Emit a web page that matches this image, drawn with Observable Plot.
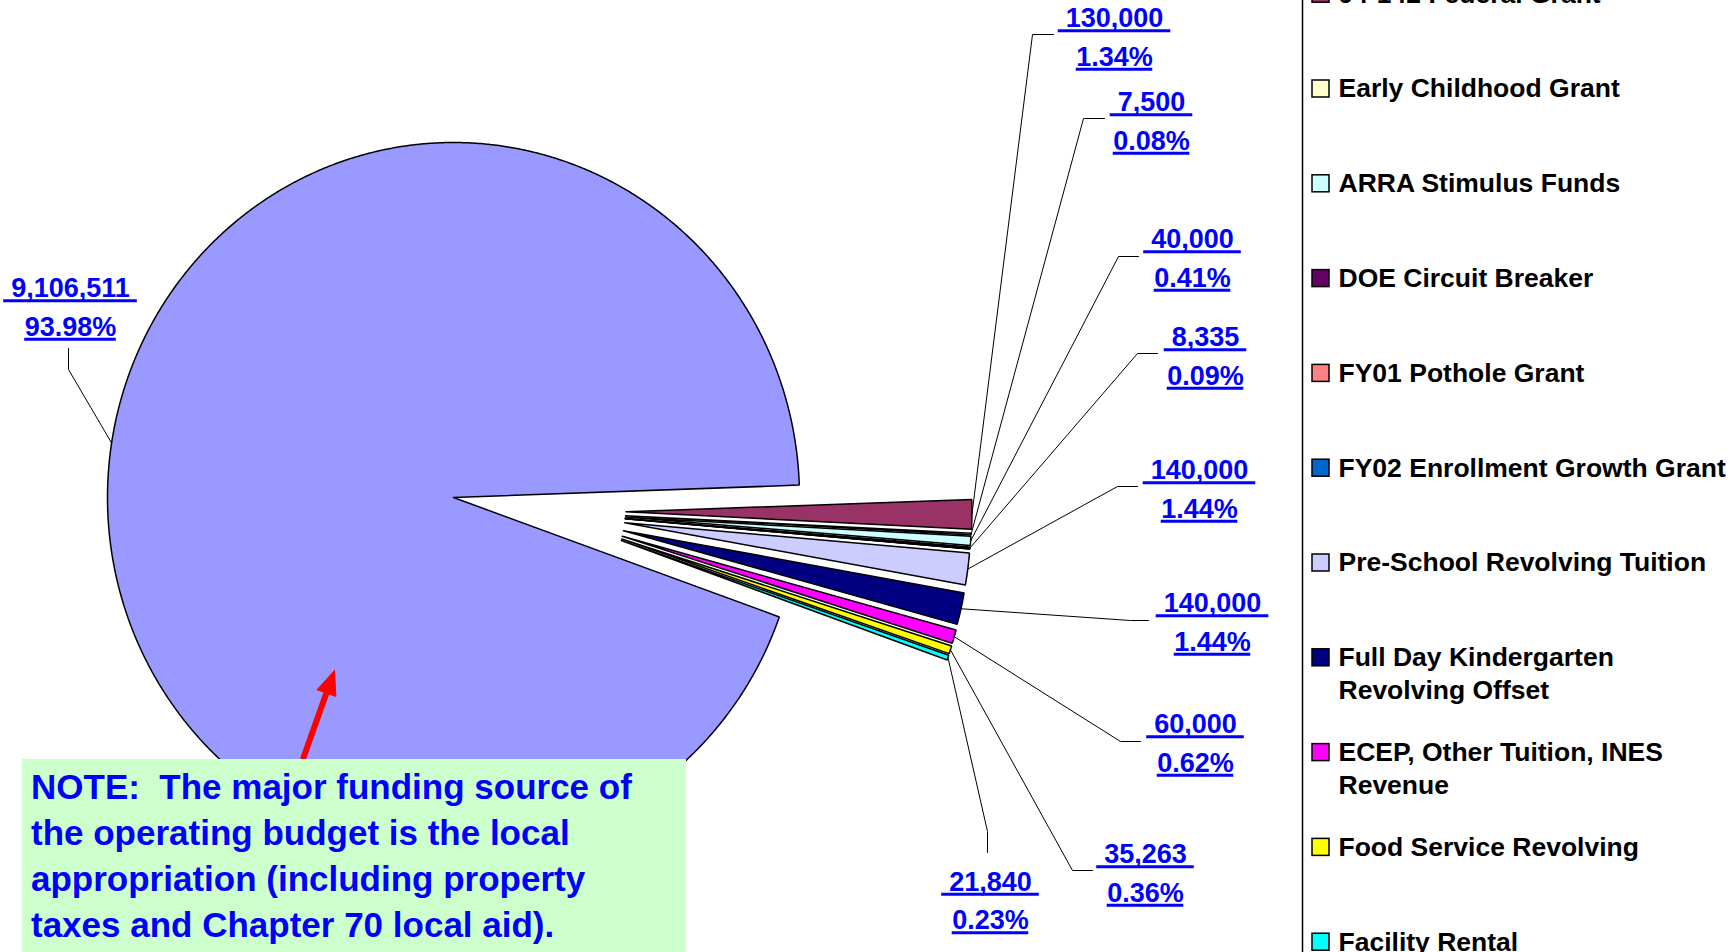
<!DOCTYPE html>
<html>
<head>
<meta charset="utf-8">
<script src="https://cdn.jsdelivr.net/npm/d3@7"></script>
<script src="https://cdn.jsdelivr.net/npm/@observablehq/plot@0.6"></script>
<style>
  html, body { margin: 0; padding: 0; background: #fff; }
  body { width: 1730px; height: 952px; overflow: hidden; position: relative; font-family: "Liberation Sans", Arial, sans-serif; }
  #chart { position: absolute; left: 0; top: 0; }
  #note {
    position: absolute; left: 22px; top: 759px; width: 664px; height: 220px;
    background: #CCFFCC; color: #0000FF; font-weight: bold; font-size: 35px;
    line-height: 46px; padding: 5px 0 0 9px; box-sizing: border-box; white-space: pre;
  }
</style>
</head>
<body>
<div id="chart"></div>
<div id="note"></div>
<script>
// ---------------- data ----------------
const categories = [
  "Local Appropriation",
  "94-142 Federal Grant",
  "Early Childhood Grant",
  "ARRA Stimulus Funds",
  "DOE Circuit Breaker",
  "FY01 Pothole Grant",
  "FY02 Enrollment Growth Grant",
  "Pre-School Revolving Tuition",
  "Full Day Kindergarten Revolving Offset",
  "ECEP, Other Tuition, INES Revenue",
  "Food Service Revolving",
  "Facility Rental"
];
const values = [9106511, 130000, 7500, 40000, 8335, 0, 0, 140000, 140000, 60000, 35263, 21840];
const colors = ["#9999FF", "#993366", "#FFFFCC", "#CCFFFF", "#660066", "#FF8080",
                "#0066CC", "#CCCCFF", "#000080", "#FF00FF", "#FFFF00", "#00FFFF"];
const legendLines = [
  ["Local Appropriation"],
  ["94-142 Federal Grant"],
  ["Early Childhood Grant"],
  ["ARRA Stimulus Funds"],
  ["DOE Circuit Breaker"],
  ["FY01 Pothole Grant"],
  ["FY02 Enrollment Growth Grant"],
  ["Pre-School Revolving Tuition"],
  ["Full Day Kindergarten", "Revolving Offset"],
  ["ECEP, Other Tuition, INES", "Revenue"],
  ["Food Service Revolving"],
  ["Facility Rental"]
];
const noteLines = [
  "NOTE:  The major funding source of",
  "the operating budget is the local",
  "appropriation (including property",
  "taxes and Chapter 70 local aid)."
];

// ---------------- layout (pixels) ----------------
const W = 1730, H = 952;
const cx = 453, cy = 497, rx = 346, ry = 355;
const X = px => (px - cx) / rx;
const Y = py => (cy - py) / ry;
const deg = Math.PI / 180;
const MAIN_END_ANGLE = 88 * deg;   // clockwise from 12 o'clock
const EXPLODE = 0.5;
const LABEL_FONT = 27;
// label anchor (value line centre) + leader elbow/end, by slice index
const labelLayout = {
  0:  {x: 70,   y: 288,   elbow: [68, 369],   end: [68, 348]},
  1:  {x: 1114, y: 18,    elbow: [1032, 34],  end: [1053, 34]},
  2:  {x: 1151, y: 102,   elbow: [1083, 118], end: [1104, 118]},
  3:  {x: 1192, y: 239,   elbow: [1118, 256], end: [1138, 256]},
  4:  {x: 1205, y: 337,   elbow: [1137, 353], end: [1157, 353]},
  7:  {x: 1199, y: 470,   elbow: [1117, 486], end: [1137, 486]},
  8:  {x: 1212, y: 603,   elbow: [1130, 620], end: [1148, 620]},
  9:  {x: 1195, y: 724,   elbow: [1120, 741], end: [1140, 741]},
  10: {x: 1145, y: 854,   elbow: [1072, 870], end: [1092, 870]},
  11: {x: 990,  y: 881.5, elbow: [987, 831],  end: [987, 852]}
};
const PCT_DY = 38.5;
const legendTop = -6.3, legendStep = 94.8, legendLineStep = 33;
const arrowTail = [303, 757], arrowTip = [334, 670];

// ---------------- geometry from data ----------------
const total = d3.sum(values);
const start = MAIN_END_ANGLE - 2 * Math.PI * values[0] / total;
const arcs = d3.pie().sort(null).value(d => d).startAngle(start).endAngle(start + 2 * Math.PI)(values);
const groupMid = (arcs[1].startAngle + arcs[arcs.length - 1].endAngle) / 2;
function offset(i) {
  if (i === 0) return [0, 0];
  const a = arcs[i];
  const mid = (a.startAngle + a.endAngle) / 2;
  const dir = (mid + groupMid) / 2;
  return [EXPLODE * Math.sin(dir), EXPLODE * Math.cos(dir)];
}
function slicePts(i) {
  const a = arcs[i];
  const [dx, dy] = offset(i);
  const n = Math.max(2, Math.ceil((a.endAngle - a.startAngle) / (0.25 * deg)));
  const pts = [{x: dx, y: dy}];
  for (let k = 0; k <= n; k++) {
    const t = a.startAngle + (a.endAngle - a.startAngle) * k / n;
    pts.push({x: dx + Math.sin(t), y: dy + Math.cos(t)});
  }
  pts.push({x: dx, y: dy});
  return pts;
}

// text measuring for the underlines
const ctx = document.createElement("canvas").getContext("2d");
ctx.font = `bold ${LABEL_FONT}px 'Liberation Sans', Arial, sans-serif`;
const textW = s => ctx.measureText(s).width;

const fmtVal = d3.format(",");
const labelData = [];
const underlineData = [];
const leaderMarks = [];
Object.keys(labelLayout).map(Number).forEach(i => {
  const L = labelLayout[i];
  const a = arcs[i];
  const mid = (a.startAngle + a.endAngle) / 2;
  const [dx, dy] = offset(i);
  const vText = "\u00a0" + fmtVal(values[i]) + "\u00a0";
  const pText = (values[i] / total * 100).toFixed(2) + "%";
  [[vText, L.y], [pText, L.y + PCT_DY]].forEach(([t, py]) => {
    labelData.push({x: X(L.x), y: Y(py), text: t});
    const w = textW(t);
    underlineData.push({x1: X(L.x - w / 2), x2: X(L.x + w / 2), y: Y(py + 0.32 * LABEL_FONT + 3.6)});
  });
  leaderMarks.push(Plot.line([
    {x: dx + Math.sin(mid), y: dy + Math.cos(mid)},
    {x: X(L.elbow[0]), y: Y(L.elbow[1])},
    {x: X(L.end[0]), y: Y(L.end[1])}
  ], {x: "x", y: "y", stroke: "#000", strokeWidth: 1}));
});

// legend
const legendRects = [], legendTexts = [];
for (let i = 1; i < categories.length; i++) {
  const yc = legendTop + (i - 1) * legendStep;
  legendRects.push({x1: X(1312), x2: X(1329), y1: Y(yc - 8.5), y2: Y(yc + 8.5), fill: colors[i]});
  legendLines[i].forEach((t, k) => legendTexts.push({x: X(1338), y: Y(yc + k * legendLineStep), text: t}));
}

// arrow
const ux = arrowTip[0] - arrowTail[0], uy = arrowTip[1] - arrowTail[1];
const ul = Math.hypot(ux, uy), u = [ux / ul, uy / ul], nrm = [-u[1], u[0]];
const headLen = 24, headHalf = 10;
const base = [arrowTip[0] - headLen * u[0], arrowTip[1] - headLen * u[1]];
const head = [
  arrowTip,
  [base[0] + headHalf * nrm[0], base[1] + headHalf * nrm[1]],
  [base[0] - headHalf * nrm[0], base[1] - headHalf * nrm[1]],
  arrowTip
].map(([px, py]) => ({x: X(px), y: Y(py)}));

const chart = Plot.plot({
  width: W, height: H, margin: 0,
  x: {domain: [X(0), X(W)], range: [0, W], axis: null},
  y: {domain: [Y(H), Y(0)], range: [H, 0], axis: null},
  style: {fontFamily: "'Liberation Sans', Arial, sans-serif", background: "white", overflow: "visible"},
  marks: [
    ...arcs.map((a, i) => Plot.line(slicePts(i), {
      x: "x", y: "y", fill: colors[i], stroke: "#000", strokeWidth: 1.5, strokeLinejoin: "miter"
    })),
    ...leaderMarks,
    Plot.text(labelData, {
      x: "x", y: "y", text: "text", fill: "#0000FF", fontSize: LABEL_FONT, fontWeight: "bold",
      textAnchor: "middle"
    }),
    Plot.ruleY(underlineData, {y: "y", x1: "x1", x2: "x2", stroke: "#0000FF", strokeWidth: 3}),
    Plot.ruleX([X(1302)], {stroke: "#000", strokeWidth: 1.5}),
    Plot.rect(legendRects, {x1: "x1", x2: "x2", y1: "y1", y2: "y2", fill: "fill", stroke: "#000", strokeWidth: 1.5}),
    Plot.text(legendTexts, {x: "x", y: "y", text: "text", fill: "#000", fontSize: 26.5, fontWeight: "bold", textAnchor: "start"}),
    Plot.line([{x: X(arrowTail[0]), y: Y(arrowTail[1])}, {x: X(base[0]), y: Y(base[1])}],
      {x: "x", y: "y", stroke: "#FF0000", strokeWidth: 6}),
    Plot.line(head, {x: "x", y: "y", fill: "#FF0000", stroke: "#FF0000", strokeWidth: 1})
  ]
});
document.getElementById("chart").appendChild(chart);
document.getElementById("note").textContent = noteLines.join("\n");
</script>
</body>
</html>
